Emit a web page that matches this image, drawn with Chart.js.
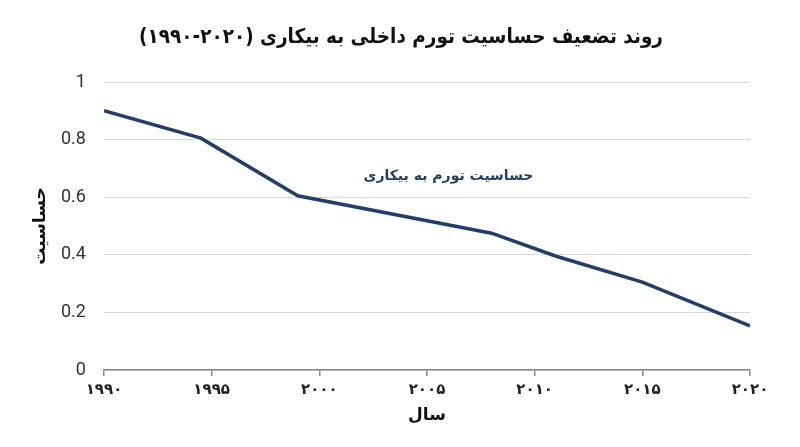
<!DOCTYPE html>
<html>
<head>
<meta charset="utf-8">
<script src="https://cdn.jsdelivr.net/npm/chart.js@4"></script>
<style>
html,body{margin:0;padding:0;background:#fff;}
#wrap{width:800px;height:447px;}
</style>
</head>
<body>
<div id="wrap"><canvas id="c"></canvas></div>
<script>
const years = [1990, 1994.5, 1999, 2008, 2011, 2015, 2020];
const sensitivity = [0.9, 0.805, 0.605, 0.475, 0.395, 0.305, 0.153];
const xTickValues = [1990, 1995, 2000, 2005, 2010, 2015, 2020];
const yTickValues = [0, 0.2, 0.4, 0.6, 0.8, 1];
const titleText = 'روند تضعیف حساسیت تورم داخلی به بیکاری (\u200E۱۹۹۰-۲۰۲۰\u200E)';
const xTitle = 'سال';
const yTitle = 'حساسیت';
const seriesLabel = 'حساسیت تورم به بیکاری';
const labelAnchor = [2006, 0.672];

const faDigits = s => String(s).replace(/[0-9]/g, d => '۰۱۲۳۴۵۶۷۸۹'[d]);
const FA = "'DejaVu Sans', sans-serif";
const FA_C = "'DejaVu Sans Condensed', 'DejaVu Sans', sans-serif";
const LINE = '#203f6c';

const textPlugin = {
  id: 'texts',
  afterDraw(chart) {
    const {ctx, scales, chartArea: a} = chart;
    ctx.save();
    ctx.direction = 'rtl';
    ctx.textAlign = 'center';
    ctx.textBaseline = 'middle';
    // title
    ctx.fillStyle = '#111';
    ctx.font = "bold 20.5px " + FA_C;
    ctx.fillText(titleText, 401, 38);
    // series label
    ctx.font = "bold 14px " + FA;
    ctx.fillStyle = LINE;
    ctx.fillText(seriesLabel, scales.x.getPixelForValue(labelAnchor[0]), scales.y.getPixelForValue(labelAnchor[1]));
    // x title
    ctx.fillStyle = '#111';
    ctx.font = "bold 17px " + FA;
    ctx.fillText(xTitle, (a.left + a.right) / 2, a.bottom + 46);
    // y title
    ctx.translate(a.left - 63, (a.top + a.bottom) / 2);
    ctx.rotate(-Math.PI / 2);
    ctx.fillText(yTitle, 0, 0);
    ctx.restore();
  }
};

new Chart(document.getElementById('c'), {
  type: 'line',
  data: {
    datasets: [{
      data: years.map((y, i) => ({x: y, y: sensitivity[i]})),
      borderColor: LINE,
      borderWidth: 3.5,
      pointRadius: 0,
      tension: 0,
      fill: false
    }]
  },
  options: {
    responsive: true,
    maintainAspectRatio: false,
    animation: false,
    layout: {padding: {left: 43, right: 50, top: 82, bottom: 43}},
    plugins: {
      legend: {display: false},
      tooltip: {enabled: false},
      title: {display: false}
    },
    scales: {
      x: {
        type: 'linear',
        min: 1990,
        max: 2020,
        afterBuildTicks: s => { s.ticks = xTickValues.map(v => ({value: v})); },
        ticks: {
          callback: v => faDigits(v),
          color: '#222',
          font: {family: FA, size: 15, weight: 'bold'},
          padding: 5,
          maxRotation: 0
        },
        grid: {display: true, drawOnChartArea: false, drawTicks: true, tickLength: 6, color: '#8a8a8a', lineWidth: 1.5},
        border: {display: true, color: '#8a8a8a', width: 1.5}
      },
      y: {
        min: 0,
        max: 1,
        afterBuildTicks: s => { s.ticks = yTickValues.map(v => ({value: v})); },
        ticks: {
          callback: v => String(v),
          color: '#333',
          font: {family: 'Roboto, sans-serif', size: 18},
          padding: 18
        },
        grid: {color: '#d9d9d9', lineWidth: 1, drawTicks: false},
        border: {display: false}
      }
    }
  },
  plugins: [textPlugin]
});
</script>
</body>
</html>
